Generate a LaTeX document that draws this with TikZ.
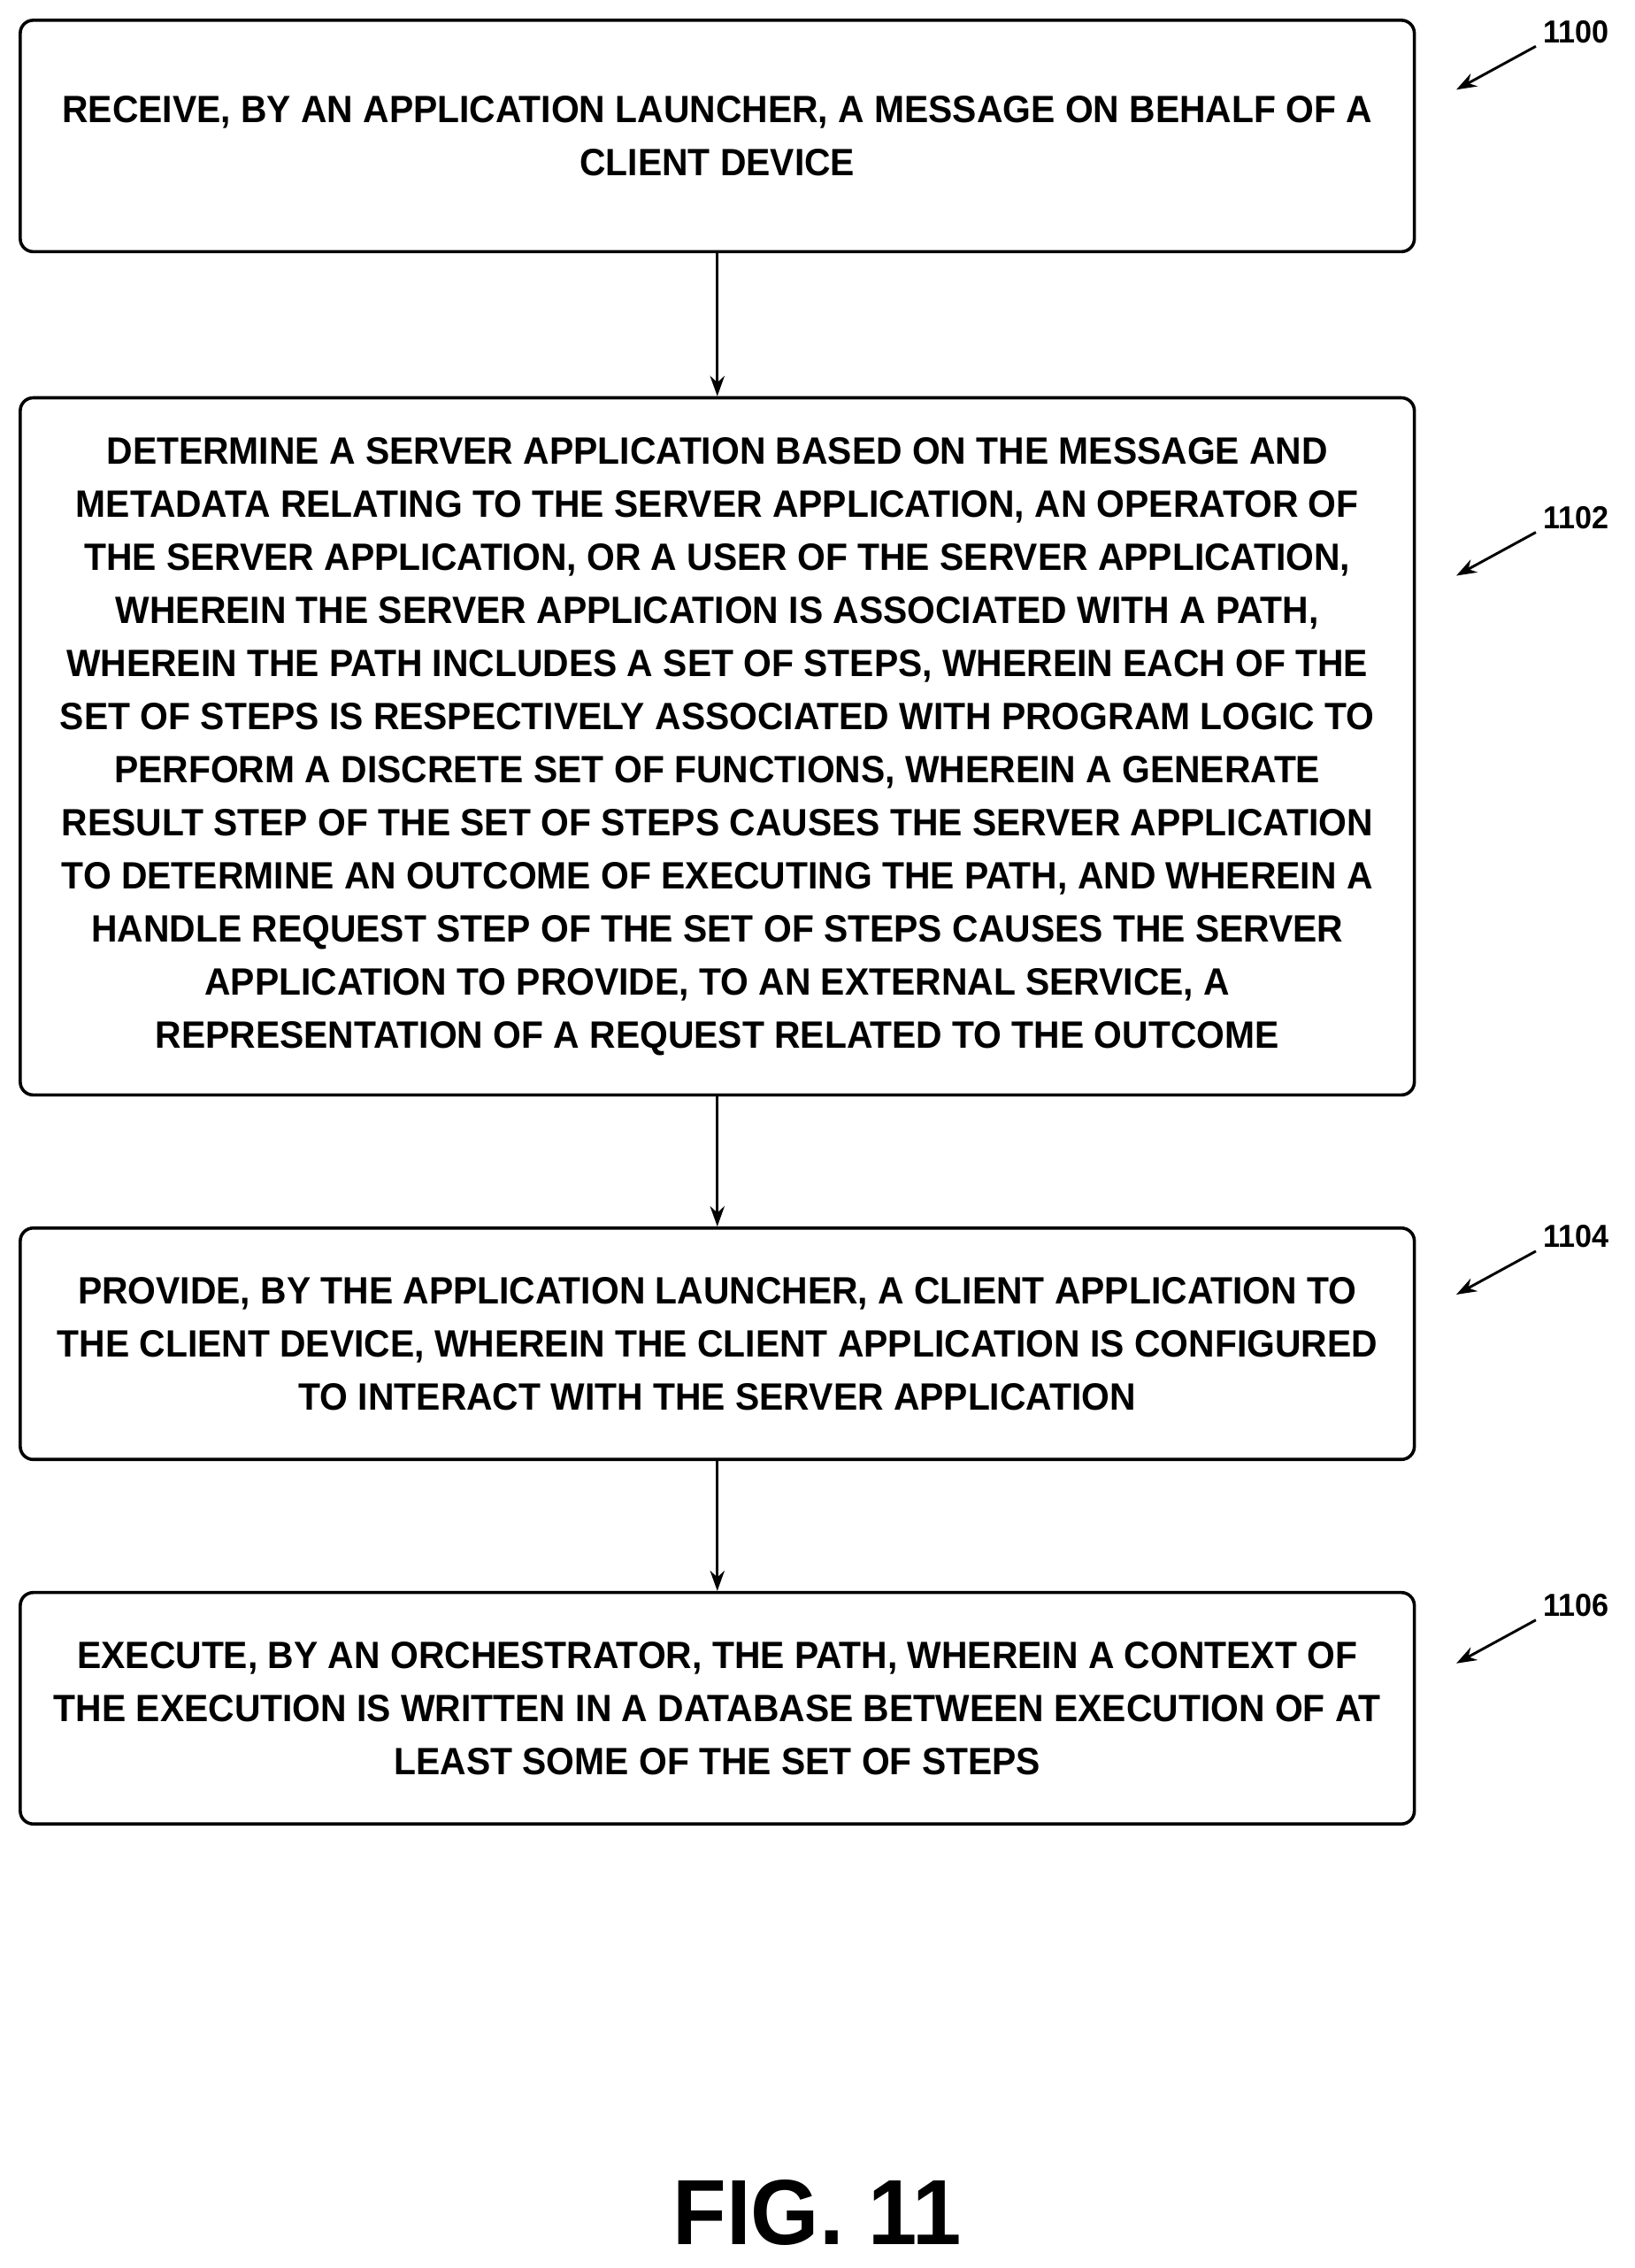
\documentclass[tikz,border=0pt]{standalone}
\usepackage{fontspec}
\setmainfont{Liberation Sans}[FakeStretch=0.95]
\usetikzlibrary{arrows.meta}
\begin{document}
\begin{tikzpicture}[x=1pt,y=-1pt,
 box/.style={draw,line width=2.2pt,rounded corners=9pt,minimum width=964pt,align=center,font=\fontsize{26.3}{36.7}\selectfont\bfseries,inner sep=0pt},
 arr/.style={line width=1.8pt,-{Stealth[length=14pt,width=10pt]}},
 lab/.style={font=\fontsize{22}{28}\selectfont\bfseries}]
\useasboundingbox (0,0) rectangle (1130,1568);
\node[box,minimum height=160pt] (b1) at (496,94) {RECEIVE, BY AN APPLICATION LAUNCHER, A MESSAGE ON BEHALF OF A\\CLIENT DEVICE};
\node[box,minimum height=482pt] (b2) at (496,516) {DETERMINE A SERVER APPLICATION BASED ON THE MESSAGE AND\\METADATA RELATING TO THE SERVER APPLICATION, AN OPERATOR OF\\THE SERVER APPLICATION, OR A USER OF THE SERVER APPLICATION,\\WHEREIN THE SERVER APPLICATION IS ASSOCIATED WITH A PATH,\\WHEREIN THE PATH INCLUDES A SET OF STEPS, WHEREIN EACH OF THE\\SET OF STEPS IS RESPECTIVELY ASSOCIATED WITH PROGRAM LOGIC TO\\PERFORM A DISCRETE SET OF FUNCTIONS, WHEREIN A GENERATE\\RESULT STEP OF THE SET OF STEPS CAUSES THE SERVER APPLICATION\\TO DETERMINE AN OUTCOME OF EXECUTING THE PATH, AND WHEREIN A\\HANDLE REQUEST STEP OF THE SET OF STEPS CAUSES THE SERVER\\APPLICATION TO PROVIDE, TO AN EXTERNAL SERVICE, A\\REPRESENTATION OF A REQUEST RELATED TO THE OUTCOME};
\node[box,minimum height=160pt] (b3) at (496,929) {PROVIDE, BY THE APPLICATION LAUNCHER, A CLIENT APPLICATION TO\\THE CLIENT DEVICE, WHEREIN THE CLIENT APPLICATION IS CONFIGURED\\TO INTERACT WITH THE SERVER APPLICATION};
\node[box,minimum height=160pt] (b4) at (496,1181) {EXECUTE, BY AN ORCHESTRATOR, THE PATH, WHEREIN A CONTEXT OF\\THE EXECUTION IS WRITTEN IN A DATABASE BETWEEN EXECUTION OF AT\\LEAST SOME OF THE SET OF STEPS};
\draw[arr] (b1) -- (b2);
\draw[arr] (b2) -- (b3);
\draw[arr] (b3) -- (b4);
\foreach \n/\y in {1100/22,1102/358,1104/855,1106/1110}{
 \node[lab] (l\n) at (1090,\y) {\n};
 \coordinate (s\n) at (1062,\y+10);
 \coordinate (e\n) at (1007,\y+40);
 \draw[arr] (s\n) -- (e\n);
}
\node[font=\fontsize{64}{80}\selectfont\bfseries] (fig) at (565,1530) {FIG. 11};
\end{tikzpicture}
\end{document}
